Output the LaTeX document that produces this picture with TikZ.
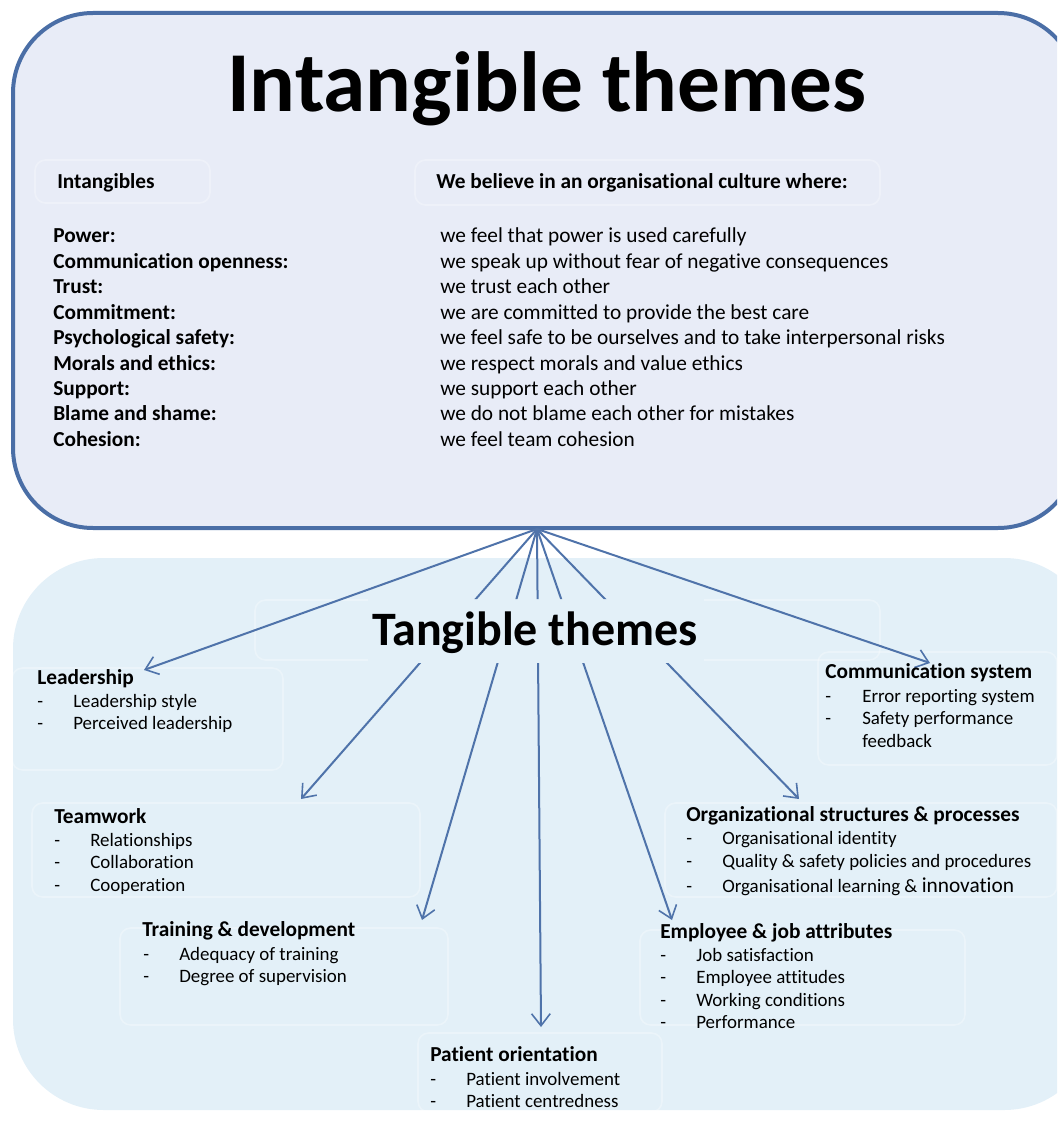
\documentclass[tikz,border=0pt]{standalone}
\usepackage{fontspec}
\setmainfont{Carlito}[Ligatures=NoCommon]
\usetikzlibrary{arrows.meta}
\definecolor{edgeblue}{HTML}{4A6EA6}
\definecolor{arrowblue}{HTML}{4F73AA}
\definecolor{topfill}{HTML}{E8ECF7}
\definecolor{botfill}{HTML}{E3F0F8}
\begin{document}
\begin{tikzpicture}[x=0.75pt,y=-0.75pt,
  txt/.style={anchor=base west,inner sep=0pt,font=\fontsize{16}{19}\selectfont},
  itm/.style={anchor=base west,inner sep=0pt,font=\fontsize{14.2}{17}\selectfont},
  hdr/.style={txt,font=\fontsize{16}{19}\selectfont\bfseries},
  faint/.style={draw=white,line width=1.2pt,opacity=0.3,rounded corners=8pt},
  arr/.style={draw=arrowblue,line width=1.5pt,-{Straight Barb[length=9pt,width=14pt,line width=1.2pt]}}]
\useasboundingbox (0,0) rectangle (1057,1123);
\clip (0,0) rectangle (1057,1123);
% frames
\fill[botfill,rounded corners=68pt] (13,558) rectangle (1095,1110);
\draw[edgeblue,fill=topfill,line width=3pt,rounded corners=60pt] (13,13) rectangle (1078,528);
% faint sub-boxes
\draw[faint] (35,160) rectangle (210,203);
\draw[faint] (415,160) rectangle (880,205);
\draw[faint] (255,600) rectangle (880,660);
\draw[faint] (12,668) rectangle (283,770);
\draw[faint] (818,652) rectangle (1057,765);
\draw[faint] (32,803) rectangle (420,897);
\draw[faint] (665,803) rectangle (1057,897);
\draw[faint] (120,928) rectangle (448,1025);
\draw[faint] (640,930) rectangle (965,1025);
\draw[faint] (418,1033) rectangle (662,1112);
% title
\node[anchor=base,inner sep=0pt,font=\fontsize{64}{70}\selectfont\bfseries] (title) at (547,112) {Intangible themes};
\node[hdr] (hint) at (57,189) {Intangibles};
\node[hdr] (hbel) at (436,189) {We believe in an organisational culture where:};
% rows
\foreach \k/\a/\b in {0/Power:/we feel that power is used carefully,
  1/Communication openness:/we speak up without fear of negative consequences,
  2/Trust:/we trust each other,
  3/Commitment:/we are committed to provide the best care,
  4/Psychological safety:/we feel safe to be ourselves and to take interpersonal risks,
  5/Morals and ethics:/we respect morals and value ethics,
  6/Support:/we support each other,
  7/Blame and shame:/we do not blame each other for mistakes,
  8/Cohesion:/we feel team cohesion}{
  \node[hdr] (l\k) at (53,243+25.4*\k) {\a};
  \node[txt] (r\k) at (440,243+25.4*\k) {\b};
}
% tangible title with cover
\fill[botfill] (368,599) rectangle (704,663);
\node[anchor=base,inner sep=0pt,font=\fontsize{36}{40}\selectfont\bfseries] (tang) at (535,645) {Tangible themes};
% arrows
\coordinate (apex) at (537,529);
\coordinate (tLead) at (144,670);
\coordinate (tTeam) at (301,799);
\coordinate (tTrain) at (422,920);
\coordinate (tPat) at (541,1027);
\coordinate (tEmp) at (672,920);
\coordinate (tOrg) at (799,799);
\coordinate (tCom) at (930,663);
\draw[arr] (apex) -- (tLead);
\draw[arr] (apex) -- (tCom);
\begin{scope}
\clip (0,529) rectangle (1057,599) (0,663) rectangle (1057,1123);
\draw[arr] (apex) -- (tTeam);
\draw[arr] (apex) -- (tTrain);
\draw[arr] (apex) -- (tPat);
\draw[arr] (apex) -- (tEmp);
\draw[arr] (apex) -- (tOrg);
\end{scope}
% Leadership
\node[hdr] (lead) at (37,684) {Leadership};
\node[itm] (lead1d) at (37,707) {-};
\node[itm] (lead1) at (73,707) {Leadership style};
\node[itm] (lead2d) at (37,729) {-};
\node[itm] (lead2) at (73,729) {Perceived leadership};
% Teamwork
\node[hdr] (team) at (54,823) {Teamwork};
\foreach \k/\t in {0/Relationships,1/Collaboration,2/Cooperation}{
  \node[itm] (team\k d) at (54,846+22.5*\k) {-};
  \node[itm] (team\k) at (90,846+22.5*\k) {\t};
}
% Training
\node[hdr] (train) at (142,936) {Training \& development};
\foreach \k/\t in {0/Adequacy of training,1/Degree of supervision}{
  \node[itm] (train\k d) at (143,960+22.5*\k) {-};
  \node[itm] (train\k) at (179,960+22.5*\k) {\t};
}
% Patient
\node[hdr] (pat) at (430,1061) {Patient orientation};
\foreach \k/\t in {0/Patient involvement,1/Patient centredness}{
  \node[itm] (pat\k d) at (430,1085+22.5*\k) {-};
  \node[itm] (pat\k) at (466,1085+22.5*\k) {\t};
}
% Employee
\node[hdr] (emp) at (660,938) {Employee \& job attributes};
\foreach \k/\t in {0/Job satisfaction,1/Employee attitudes,2/Working conditions,3/Performance}{
  \node[itm] (emp\k d) at (660,961+22.5*\k) {-};
  \node[itm] (emp\k) at (696,961+22.5*\k) {\t};
}
% Organizational
\node[hdr] (org) at (686,821) {Organizational structures \& processes};
\node[itm] (org0d) at (686,844) {-};
\node[itm] (org0) at (722,844) {Organisational identity};
\node[itm] (org1d) at (686,867) {-};
\node[itm] (org1) at (722,867) {Quality \& safety policies and procedures};
\node[itm] (org2d) at (686,892) {-};
\node[itm] (org2) at (722,892) {Organisational learning \& {\fontsize{16}{19}\selectfont innovation}};
% Communication
\node[hdr] (com) at (825,678) {Communication system};
\node[itm] (com0d) at (825,702) {-};
\node[itm] (com0) at (862,702) {Error reporting system};
\node[itm] (com1d) at (825,724) {-};
\node[itm] (com1) at (862,724) {Safety performance};
\node[itm] (com2) at (862,747) {feedback};
\end{tikzpicture}
\end{document}
